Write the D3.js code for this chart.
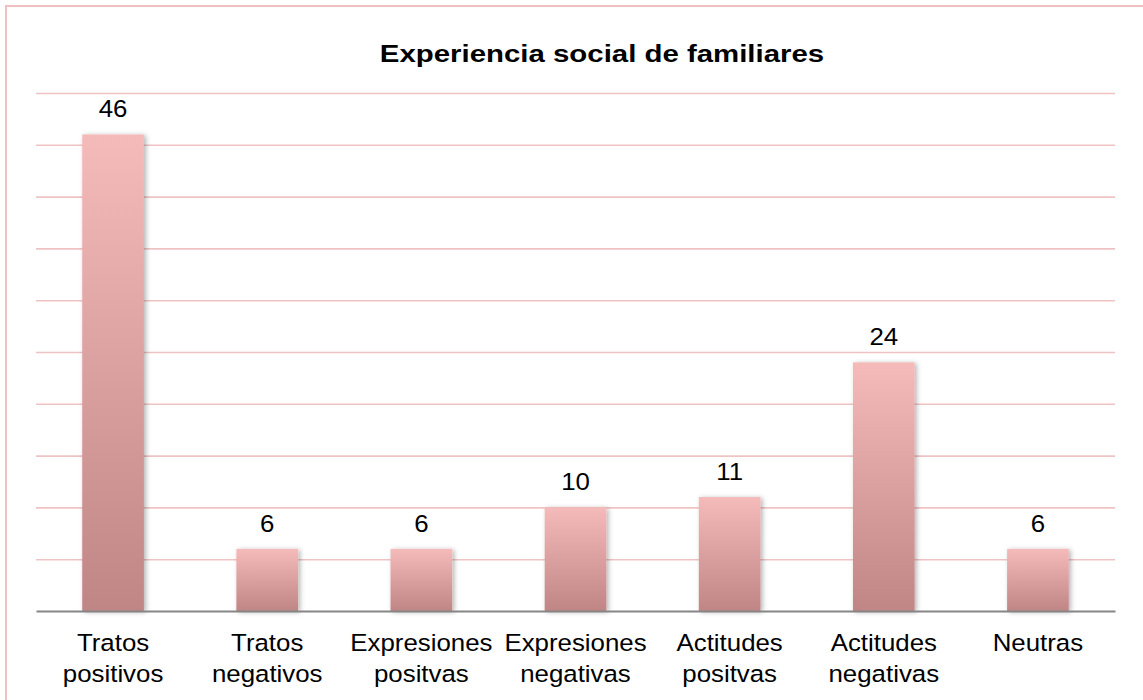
<!DOCTYPE html>
<html>
<head>
<meta charset="utf-8">
<script src="https://cdn.jsdelivr.net/npm/d3@7"></script>
<style>
    html, body { margin: 0; padding: 0; background: #ffffff; }
    svg { display: block; font-family: "Liberation Sans", Arial, sans-serif; }
</style>
</head>
<body>
<svg id="chart"></svg>
<script>
// chart data
const categories = [
    ["Tratos", "positivos"],
    ["Tratos", "negativos"],
    ["Expresiones", "positvas"],
    ["Expresiones", "negativas"],
    ["Actitudes", "positvas"],
    ["Actitudes", "negativas"],
    ["Neutras"]
]
const values = [46, 6, 6, 10, 11, 24, 6]
const yTicks = [0, 5, 10, 15, 20, 25, 30, 35, 40, 45, 50]
const title = "Experiencia social de familiares"

const data = categories.map((c, i) => ({ key: i, label: c, value: values[i] }))

// svg size
const svgWidth = 1143
const svgHeight = 700

// plot area
const margin = { left: 36, right: 28, top: 93, bottom: 89 }
const width = svgWidth - margin.left - margin.right
const height = svgHeight - margin.top - margin.bottom

// horizontal stretch of the text in the original picture
const labelStretch = 1.1
const titleStretch = 1.2

const svg = d3.select("#chart")
    .attr("width", svgWidth)
    .attr("height", svgHeight)

const defs = svg.append("defs")

// bar gradient, light on top, darker at the base
const grad = defs.append("linearGradient")
    .attr("id", "bar-gradient")
    .attr("x1", 0).attr("y1", 0).attr("x2", 0).attr("y2", 1)
grad.append("stop").attr("offset", "0%").attr("stop-color", "#f5bbba")
grad.append("stop").attr("offset", "100%").attr("stop-color", "#c08585")

// soft shadow under bars
const shadow = defs.append("filter")
    .attr("id", "bar-shadow")
    .attr("x", "-20%").attr("y", "-10%")
    .attr("width", "150%").attr("height", "130%")
shadow.append("feDropShadow")
    .attr("dx", 2).attr("dy", 1)
    .attr("stdDeviation", 2.5)
    .attr("flood-color", "#000000")
    .attr("flood-opacity", 0.3)

// outer frame
svg.append("rect")
    .attr("x", 6).attr("y", 6)
    .attr("width", svgWidth + 40).attr("height", svgHeight + 40)
    .attr("fill", "none")
    .attr("stroke", "#efc0c0")
    .attr("stroke-width", 2)

// title
svg.append("g")
    .attr("transform", `translate(602, 62) scale(${titleStretch}, 1)`)
    .append("text")
    .attr("text-anchor", "middle")
    .attr("font-weight", "bold")
    .attr("font-size", "24.5px")
    .attr("fill", "#000000")
    .text(title)

const g = svg.append("g")
    .attr("transform", `translate(${margin.left}, ${margin.top})`)

// scales
const xScale = d3.scaleBand()
    .range([0, width])
    .domain(data.map(d => d.key))
    .paddingInner(0.6)
    .paddingOuter(0.3)

const yScale = d3.scaleLinear()
    .range([height, 0])
    .domain([0, d3.max(yTicks)])

// y gridlines (no labels)
const yAxis = d3.axisLeft(yScale)
    .tickValues(yTicks.filter(t => t > 0))
    .tickSize(-width)
    .tickFormat("")

g.append("g")
    .attr("class", "y-grid")
    .call(yAxis)
    .call(s => s.select(".domain").remove())
    .call(s => s.selectAll(".tick>line")
        .attr("stroke", "#efc3c3")
        .attr("stroke-width", 1.6))

// bars
g.selectAll(".bar")
    .data(data)
    .join("rect")
    .attr("class", "bar")
    .attr("x", d => xScale(d.key))
    .attr("y", d => yScale(d.value))
    .attr("width", xScale.bandwidth())
    .attr("height", d => yScale(0) - yScale(d.value))
    .attr("fill", "url(#bar-gradient)")
    .attr("filter", "url(#bar-shadow)")

// value labels above bars
g.selectAll(".value-label")
    .data(data)
    .join("g")
    .attr("class", "value-label")
    .attr("transform", d => `translate(${xScale(d.key) + xScale.bandwidth() / 2}, ${yScale(d.value) - 17}) scale(${labelStretch}, 1)`)
    .append("text")
    .attr("text-anchor", "middle")
    .attr("font-size", "23.5px")
    .attr("fill", "#000000")
    .text(d => d.value)

// x axis baseline with category labels
const xAxis = d3.axisBottom(xScale).tickSize(0).tickFormat("")

g.append("g")
    .attr("class", "x-axis")
    .attr("transform", `translate(0, ${height})`)
    .call(xAxis)
    .call(s => s.select(".domain")
        .attr("stroke", "#868686")
        .attr("stroke-width", 2))

const catLabels = g.selectAll(".cat-label")
    .data(data)
    .join("g")
    .attr("class", "cat-label")
    .attr("transform", d => `translate(${xScale(d.key) + xScale.bandwidth() / 2}, ${height + 40}) scale(${labelStretch}, 1)`)
    .append("text")
    .attr("text-anchor", "middle")
    .attr("font-size", "23.5px")
    .attr("fill", "#000000")

catLabels.selectAll("tspan")
    .data(d => d.label)
    .join("tspan")
    .attr("x", 0)
    .attr("y", (d, i) => i * 31)
    .text(d => d)
</script>
</body>
</html>
